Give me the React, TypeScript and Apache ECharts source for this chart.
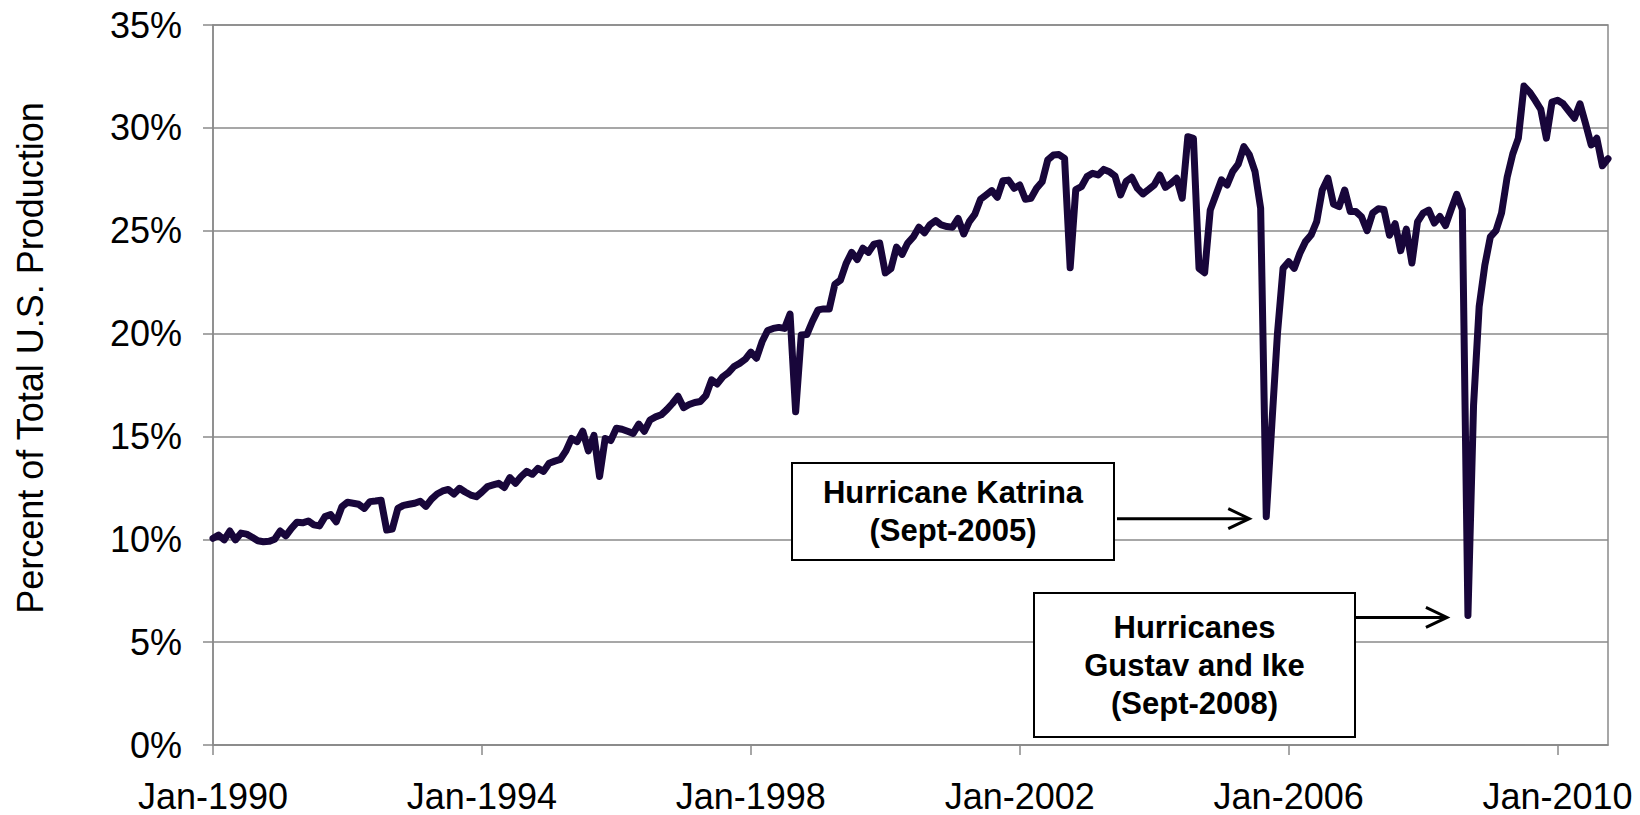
import React, { useEffect, useRef } from "react";
import * as echarts from "echarts";

// ---- data ----
const monthNames = ["Jan", "Feb", "Mar", "Apr", "May", "Jun", "Jul", "Aug", "Sep", "Oct", "Nov", "Dec"];
const startYear = 1990;

// Percent of total U.S. production, monthly Jan-1990 .. Oct-2010
const shareOfProduction = [
  10.05, 10.2, 9.97, 10.4, 9.97, 10.3, 10.25, 10.1, 9.93, 9.88,
  9.9, 10.0, 10.4, 10.17, 10.53, 10.83, 10.8, 10.89, 10.7, 10.65,
  11.1, 11.2, 10.85, 11.58, 11.8, 11.75, 11.7, 11.5, 11.83, 11.86,
  11.9, 10.45, 10.5, 11.5, 11.65, 11.7, 11.75, 11.85, 11.6, 11.95,
  12.2, 12.35, 12.42, 12.2, 12.48, 12.3, 12.15, 12.07, 12.3, 12.56,
  12.64, 12.72, 12.52, 13.0, 12.72, 13.05, 13.3, 13.16, 13.45, 13.3,
  13.7, 13.8, 13.88, 14.3, 14.9, 14.75, 15.25, 14.3, 15.05, 13.05,
  14.9, 14.8, 15.4, 15.35, 15.25, 15.15, 15.6, 15.25, 15.8, 15.95,
  16.05, 16.3, 16.6, 16.95, 16.4, 16.55, 16.65, 16.7, 17.0, 17.75,
  17.55, 17.9, 18.1, 18.4, 18.55, 18.75, 19.1, 18.8, 19.6, 20.15,
  20.25, 20.3, 20.25, 20.95, 16.2, 19.93, 19.95, 20.6, 21.15, 21.2,
  21.2, 22.4, 22.6, 23.4, 23.95, 23.6, 24.15, 23.95, 24.35, 24.4,
  22.95, 23.15, 24.2, 23.85, 24.4, 24.7, 25.17, 24.9, 25.3, 25.49,
  25.28, 25.2, 25.17, 25.6, 24.84, 25.44, 25.81, 26.53, 26.74, 26.95,
  26.62, 27.43, 27.46, 27.06, 27.22, 26.53, 26.58, 27.06, 27.38, 28.44,
  28.68, 28.7, 28.52, 23.2, 27.0, 27.14, 27.63, 27.79, 27.71, 27.98,
  27.87, 27.66, 26.74, 27.4, 27.6, 27.06, 26.79, 27.0, 27.22, 27.71,
  27.11, 27.3, 27.55, 26.58, 29.57, 29.49, 23.17, 22.96, 26.0, 26.74,
  27.47, 27.22, 27.87, 28.24, 29.09, 28.68, 27.87, 26.09, 11.1, 15.6,
  20.0, 23.17, 23.49, 23.17, 23.9, 24.47, 24.79, 25.44, 26.98, 27.55,
  26.3, 26.17, 26.98, 25.93, 25.93, 25.68, 25.0, 25.86, 26.07, 26.03,
  24.78, 25.34, 24.03, 25.08, 23.43, 25.43, 25.86, 26.0, 25.37, 25.69,
  25.25, 26.03, 26.77, 26.03, 6.3, 16.5, 21.3, 23.3, 24.7, 25.0,
  25.86, 27.6, 28.73, 29.5, 32.03, 31.74, 31.34, 30.9, 29.5, 31.25,
  31.34, 31.17, 30.82, 30.47, 31.17, 30.2, 29.17, 29.5, 28.16, 28.5,
];

const categories = shareOfProduction.map(
  (_, i) => `${monthNames[i % 12]}-${startYear + Math.floor(i / 12)}`
);

const tickLabels = ["Jan-1990", "Jan-1994", "Jan-1998", "Jan-2002", "Jan-2006", "Jan-2010"];

const yAxisTitle = "Percent of Total U.S. Production";

const annotationTexts = [
  { lines: ["Hurricane Katrina", "(Sept-2005)"], month: "Sep-2005" },
  { lines: ["Hurricanes", "Gustav and Ike", "(Sept-2008)"], month: "Sep-2008" },
];

export default function App() {
  const ref = useRef<HTMLDivElement>(null);

  useEffect(() => {
    document.body.style.margin = "0";
    if (!ref.current) return;
    const chart = echarts.init(ref.current, undefined, { renderer: "svg" });
    const font = '"Liberation Sans", Arial, Helvetica, sans-serif';
    const gridColor = "#8a8a8a";
    const lineColor = "#18063a";
    const showTick = (i: number) => tickLabels.includes(categories[i]);

    chart.setOption({
      animation: false,
      backgroundColor: "#ffffff",
      textStyle: { fontFamily: font },
      grid: {
        left: 213,
        right: 32,
        top: 25,
        bottom: 70,
        show: true,
        borderColor: gridColor,
        borderWidth: 1.5,
        backgroundColor: "transparent",
      },
      xAxis: {
        type: "category",
        data: categories,
        boundaryGap: false,
        axisLine: { lineStyle: { color: gridColor, width: 1.5 } },
        axisTick: {
          show: true,
          interval: (i: number) => showTick(i),
          length: 10,
          lineStyle: { color: gridColor, width: 1.5 },
        },
        axisLabel: {
          interval: (i: number) => showTick(i),
          color: "#000",
          fontSize: 36,
          lineHeight: 34,
          fontFamily: font,
          margin: 34,
        },
        splitLine: { show: false },
      },
      yAxis: {
        type: "value",
        min: 0,
        max: 35,
        interval: 5,
        axisLine: { show: true, lineStyle: { color: gridColor, width: 1.5 } },
        axisTick: { show: true, length: 10, lineStyle: { color: gridColor, width: 1.5 } },
        axisLabel: {
          formatter: "{value}%",
          color: "#000",
          fontSize: 36,
          fontFamily: font,
          margin: 31,
        },
        splitLine: { show: true, lineStyle: { color: gridColor, width: 1.5 } },
      },
      series: [
        {
          type: "line",
          data: shareOfProduction,
          showSymbol: false,
          symbol: "none",
          lineStyle: { color: lineColor, width: 7, cap: "round", join: "round" },
          z: 3,
        },
      ],
    });

    // annotations anchored to the data dips
    const boxes = [
      { x: 792, y: 463, w: 322, h: 97, dx: -17, gap: 3 },
      { x: 1034, y: 593, w: 321, h: 144, dx: -21, gap: 0 },
    ];
    const elements: any[] = [];
    annotationTexts.forEach((a, k) => {
      const idx = categories.indexOf(a.month);
      const p = chart.convertToPixel({ seriesIndex: 0 }, [idx, shareOfProduction[idx]]) as number[];
      const b = boxes[k];
      const tipX = p[0] + b.dx;
      const tipY = p[1] + 2;
      elements.push({
        type: "rect",
        z: 10,
        shape: { x: b.x, y: b.y, width: b.w, height: b.h },
        style: { fill: "#ffffff", stroke: "#000000", lineWidth: 2 },
      });
      elements.push({
        type: "text",
        z: 11,
        x: b.x + b.w / 2,
        y: b.y + b.h / 2,
        style: {
          text: a.lines.join("\n"),
          align: "center",
          verticalAlign: "middle",
          font: `bold 31px ${font}`,
          lineHeight: 38,
          fill: "#000000",
        },
      });
      elements.push({
        type: "line",
        z: 10,
        shape: { x1: b.x + b.w + b.gap, y1: tipY, x2: tipX - 1, y2: tipY },
        style: { stroke: "#000000", lineWidth: 3 },
      });
      elements.push({
        type: "polyline",
        z: 10,
        shape: {
          points: [
            [tipX - 21, tipY - 10],
            [tipX, tipY],
            [tipX - 21, tipY + 10],
          ],
        },
        style: { stroke: "#000000", lineWidth: 3, fill: "none" },
      });
    });
    elements.push({
      type: "text",
      z: 11,
      x: 30,
      y: 358,
      rotation: Math.PI / 2,
      style: {
        text: yAxisTitle,
        align: "center",
        verticalAlign: "middle",
        font: `36px ${font}`,
        fill: "#000000",
      },
    });
    chart.setOption({ graphic: elements });

    return () => chart.dispose();
  }, []);

  return <div ref={ref} style={{ width: 1640, height: 815 }} />;
}
